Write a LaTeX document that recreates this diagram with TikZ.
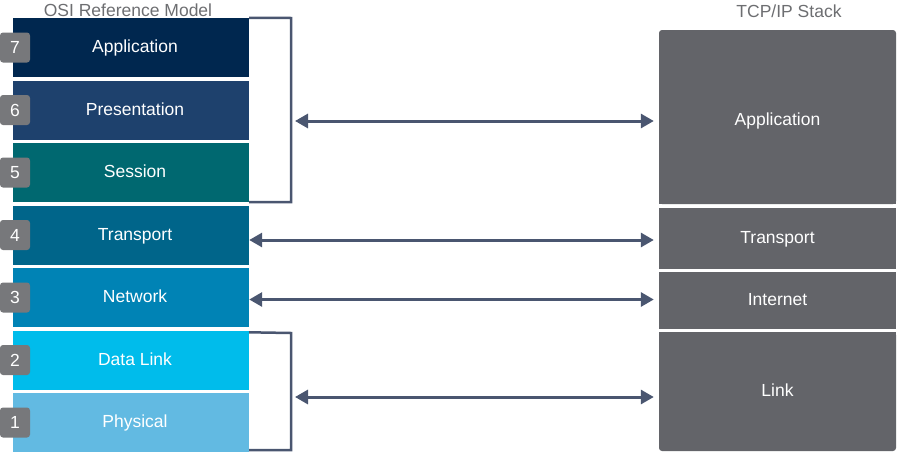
\documentclass[tikz,border=0pt]{standalone}
\usepackage{fontspec}
\setmainfont{Liberation Sans}
\usetikzlibrary{arrows.meta}
\usepackage{xcolor}
\definecolor{osi7}{HTML}{00274F}
\definecolor{osi6}{HTML}{1E416D}
\definecolor{osi5}{HTML}{006870}
\definecolor{osi4}{HTML}{00658A}
\definecolor{osi3}{HTML}{0083B5}
\definecolor{osi2}{HTML}{00BCEB}
\definecolor{osi1}{HTML}{62BAE2}
\definecolor{badgegray}{HTML}{77787B}
\definecolor{stackgray}{HTML}{636469}
\definecolor{titlegray}{HTML}{6D6E71}
\definecolor{linkblue}{HTML}{4A5670}

\begin{document}
\begin{tikzpicture}[x=1pt, y=1pt,
  txt/.style={text=white, font=\fontsize{17.5}{20}\selectfont},
  lbl/.style={txt, text height=12.6pt, text depth=3.7pt, yshift=-1pt},
  layertext/.style={lbl, xshift=4pt},
  layer/.style={rectangle, minimum width=236pt, minimum height=59pt, inner sep=0pt,
    label={[layertext]center:#1}},
  num/.style={rectangle, rounded corners=3pt, fill=badgegray, minimum size=30pt, inner sep=0pt, txt},
  stack/.style={rectangle, fill=stackgray, minimum width=237pt, inner sep=0pt},
  title/.style={text=titlegray, font=\fontsize{17.5}{20}\selectfont},
  bracket/.style={line width=2.5pt, draw=linkblue},
  link/.style={{Triangle[length=13pt,width=14pt]}-{Triangle[length=13pt,width=14pt]}, line width=3pt, draw=linkblue}
]
\useasboundingbox (0,0) rectangle (897,-453);
% titles
\node[title] (osi) at (128,-10) {OSI Reference Model};
\node[title] (tcp) at (789,-11) {TCP/IP Stack};
% OSI layers
\node[layer=Application, fill=osi7] (n7) at (131,-47.5) {};
\node[layer=Presentation, fill=osi6] (n6) at (131,-110) {};
\node[layer=Session, fill=osi5] (n5) at (131,-172.5) {};
\node[layer=Transport, fill=osi4] (n4) at (131,-235) {};
\node[layer=Network, fill=osi3] (n3) at (131,-297.5) {};
\node[layer=Data Link, fill=osi2] (n2) at (131,-360) {};
\node[layer=Physical, fill=osi1] (n1) at (131,-422.5) {};
% layer numbers
\node[num] (b7) at (15,-47.5) {7};
\node[num] (b6) at (15,-110) {6};
\node[num] (b5) at (15,-172.5) {5};
\node[num] (b4) at (15,-235) {4};
\node[num] (b3) at (15,-297.5) {3};
\node[num] (b2) at (15,-360) {2};
\node[num] (b1) at (15,-422.5) {1};
% TCP/IP stack
\node[stack, minimum height=174pt, rounded corners=3pt,
  label={[lbl, yshift=-3.5pt]center:Application}] (t4) at (777.5,-117) {};
\fill[stackgray] (t4.south west) rectangle ([yshift=6pt]t4.south east);
\node[stack, minimum height=61pt, label={[lbl]center:Transport}] (t3) at (777.5,-238.5) {};
\node[stack, minimum height=57pt, label={[lbl]center:Internet}] (t2) at (777.5,-300.5) {};
\node[stack, minimum height=119pt, rounded corners=3pt,
  label={[lbl]center:Link}] (t1) at (777.5,-391.5) {};
\fill[stackgray] ([yshift=-6pt]t1.north west) rectangle (t1.north east);
% brackets
\coordinate (up) at (291,-18);
\coordinate (lo) at (291,-333);
\draw[bracket] (n7.north east) -- (up) |- (n5.south east);
\draw[bracket] ([yshift=-2pt]n2.north east) -- (lo) |- ([yshift=2pt]n1.south east);
% arrows
\coordinate (a4) at (295,-121);
\coordinate (a1) at (295,-397);
\draw[link, shorten >=5pt] (a4) -- (a4 -| t4.west);
\draw[link, shorten >=5pt] ([yshift=-5pt]n4.east) -- ([yshift=-5pt]n4.east -| t3.west);
\draw[link, shorten >=5pt] ([yshift=-2pt]n3.east) -- ([yshift=-2pt]n3.east -| t2.west);
\draw[link, shorten >=5pt] (a1) -- (a1 -| t1.west);
\end{tikzpicture}
\end{document}
